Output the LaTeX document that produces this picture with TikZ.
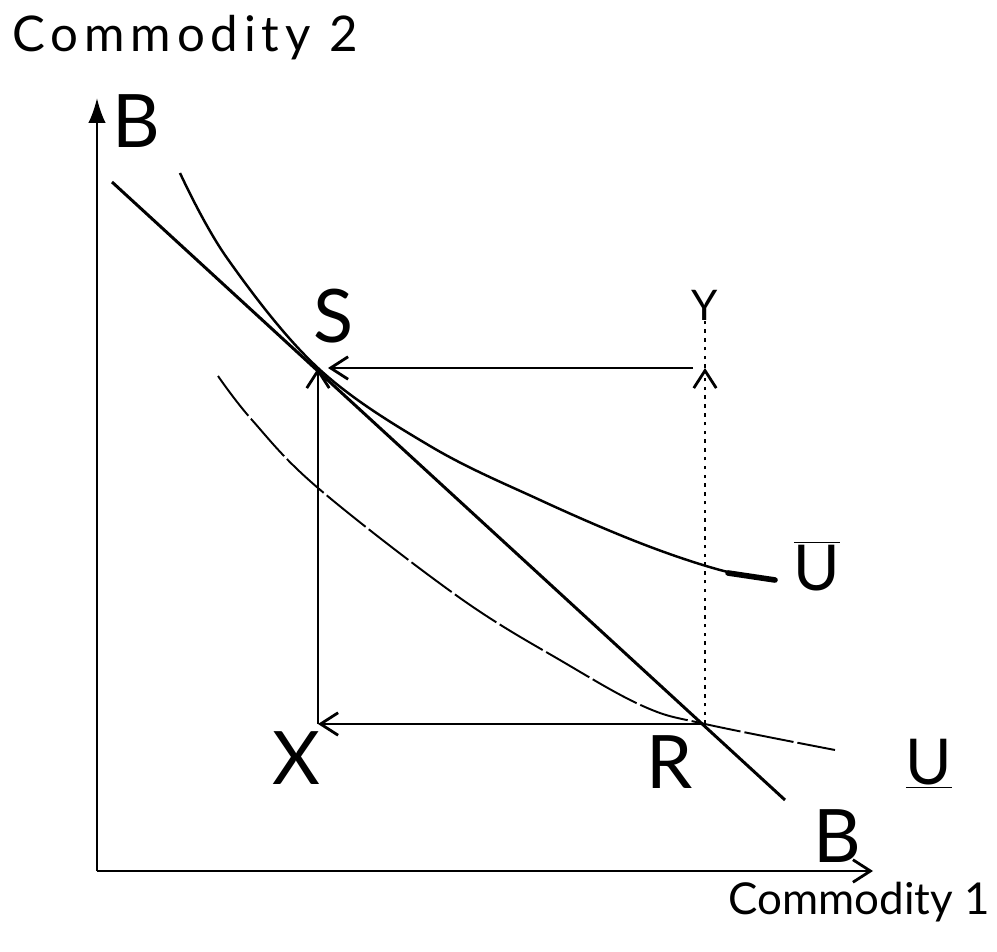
\documentclass[tikz,border=0pt]{standalone}
\usepackage{fontspec}
\setmainfont{Lato}
\usetikzlibrary{arrows.meta,positioning}

\begin{document}
\begin{tikzpicture}[
  x=0.02cm,y=-0.02cm,
  >={Straight Barb[length=3.5mm,width=4.5mm,line width=1.6pt]},
  axis/.style={line width=1.3pt},
  budget/.style={line width=1.7pt},
  upper/.style={line width=1.4pt},
  lower/.style={line width=1.1pt,dash pattern=on 10mm off 0.8mm},
  move/.style={->,line width=1.5pt},
  guide/.style={line width=1.3pt,dash pattern=on 2pt off 3pt},
  big/.style={font=\fontsize{42}{46}\selectfont,inner sep=0pt},
  mid/.style={font=\fontsize{36}{40}\selectfont,inner sep=0pt},
  axlabel/.style={inner sep=0pt}
]
\useasboundingbox (0,0) rectangle (997,952);
% axes
\coordinate (O) at (97,871);
\coordinate (ytop) at (97,98);
\coordinate (xend) at (873,871);
\draw[axis,-{Latex[length=5mm,width=3.5mm]}] (O) -- (ytop);
\draw[axis,->] (O) -- (xend);
\node[axlabel,font=\fontsize{28}{32}\selectfont\addfontfeature{LetterSpace=12}]
  (comtwo) at (185,38) {Commodity 2};
\node[axlabel,font=\fontsize{25}{30}\selectfont] (comone) at (859,902) {Commodity 1};

% budget line
\coordinate (Btop) at (112,182);
\coordinate (Bbot) at (785,800);
\draw[budget] (Btop) -- (Bbot);
\node[big] (labBtop) at (136,121) {B};
\node[big] (labBbot) at (837,836) {B};

% points of the cycle
\coordinate (S) at (318,368);
\coordinate (R) at (705,724);
\coordinate (X) at (318,724);
\coordinate (Yc) at (705,368);

% indifference curves
\draw[upper] plot[smooth,tension=0.6] coordinates
  {(180,173) (227,258) (S) (430,446) (540,500) (640,543) (720,570) (775,580)};
\draw[line width=3.2pt,line cap=round] (728,573) -- (775,580);
\draw[lower] plot[smooth,tension=0.6] coordinates
  {(218,376) (252,420) (318,488) (460,598) (565,663) (645,707) (R) (835,750)};
\node[mid] (labUbar) at (817,566) {$\overline{\mbox{U}}$};
\node[mid] (labUlow) at (929,764) {$\underline{\mbox{U}}$};

% labels
\node[big] (labS) at (334,316) {S};
\node[big] (labX) at (296,758) {X};
\node[big] (labR) at (670,762) {R};
\node[font=\fontsize{24}{28}\selectfont,inner sep=0pt] (labY) at (705,305) {Y};

% moves
\draw[move] (X) -- (S);
\draw[move] (R) -- (X);
\draw[guide,->] (R) -- (Yc);
\draw[guide] (Yc) -- (labY.south);
\draw[move,shorten <=2.4mm,shorten >=2mm] (Yc) -- (S);
\end{tikzpicture}
\end{document}
